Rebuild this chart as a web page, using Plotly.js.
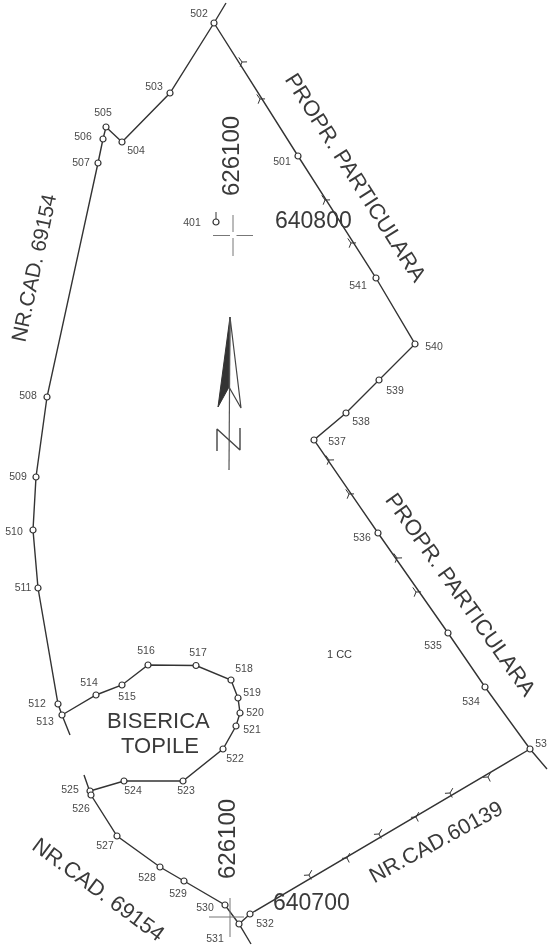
<!DOCTYPE html>
<html><head><meta charset="utf-8">
<script src="https://cdn.plot.ly/plotly-3.0.1.min.js"></script>
<style>html,body{margin:0;padding:0;background:#fff}#p{width:549px;height:948px;filter:blur(0.45px)}</style>
</head><body><div id="p"></div>
<script>
// Boundary runs, read from the plan (sheet coordinates)
const westRunX=[226,214,170,122,106,103,98,47,36,33,38,58,62,70];
const westRunY=[3,23,93,142,127,139,163,397,477,530,588,704,715,735];
const churchRunX=[62,96,122,148,196,231,238,240,236,223,183,124,90];
const churchRunY=[715,695,685,665,665.5,680,698,713,726,749,781,781,791];
const southRunX=[84,90,91,117,160,184,225,239,251];
const southRunY=[775,791,795,836,867,881,905,924,944];
const cadRunX=[239,250,530];
const cadRunY=[924,914,749];
const eastRunX=[547,530,485,448,378,314,346,379,415,376,298,214];
const eastRunY=[769,749,687,633,533,440,413,380,344,278,156,23];
// Surveyed points
const pointX=[298,214,170,122,106,103,98,47,36,33,38,58,62,96,122,148,196,231,238,240,236,223,183,124,90,91,117,160,184,225,239,250,530,485,448,378,314,346,379,415,376,216];
const pointY=[156,23,93,142,127,139,163,397,477,530,588,704,715,695,685,665,665.5,680,698,713,726,749,781,781,791,795,836,867,881,905,924,914,749,687,633,533,440,413,380,344,278,222];
// Point labels
const labelText=["501","502","503","504","505","506","507","508","509","510","511","512","513","514","515","516","517","518","519","520","521","522","523","524","525","526","527","528","529","530","531","532","53","534","535","536","537","538","539","540","541","401"];
const labelX=[282,199,154,136,103,83,81,28,18,14,23,37,45,89,127,146,198,244,252,255,252,235,186,133,70,81,105,147,178,205,215,265,541,471,433,362,337,361,395,434,358,192];
const labelY=[162,14,87,151,113,137,163,396,477,532,588,704,722,683,697,651,653,669,693,713,730,759,791,791,790,809,846,878,894,908,939,924,744,702,646,538,442,422,391,347,286,223];
// Boundary tick marks
const tickX=[242,260,325,351,329,349,397,416,488,450,416,379,347,309];
const tickY=[62,99,200,243,460,494,558,592,777,793,817,834,858,875];
const tickAngle=[-35,-35,-35,-35,-35,-35,-35,-35,30,30,30,30,30,30];
// Large rotated captions
const captionText=["PROPR. PARTICULARA","PROPR. PARTICULARA","NR.CAD. 69154","NR.CAD. 69154","NR.CAD.60139","626100","626100","640800","640700","BISERICA","TOPILE","1 CC"];
const captionX=[356,461,33,99,436,230,226,313,311,158,160,339];
const captionY=[177,594,268,889,842,156,839,220,902,720,745,654];
const captionAngle=[57.5,54.7,-78,36.5,-28.5,-90,-90,0,0,0,0,0];
const captionSize=[22,22,21,22,21.5,24,24,23,23,22,22,11];
// Grid crosses
const crossAX=[213,230,null,236.5,253,null,233,233,null,233,233];
const crossAY=[235.5,235.5,null,235.5,235.5,null,215,232,null,238,256];
const crossBX=[209,244,null,230,230];
const crossBY=[917,917,null,898,937];
// North arrow
const arrowDarkX=[230,218,229,230], arrowDarkY=[317,407,387,317];
const arrowLightX=[230,241,229,230], arrowLightY=[317,408,387,317];
const stemX=[230,229], stemY=[317,470];
const northX=[217,217,240,240], northY=[451,429,450,428];
const stubX=[216,216], stubY=[222,212];

const ink='#333';
const ln=(x,y,w,c)=>({type:'scatter',mode:'lines',x,y,hoverinfo:'skip',line:{color:c||ink,width:w||1.4}});
const traces=[
 ln(westRunX,westRunY),ln(churchRunX,churchRunY),ln(southRunX,southRunY),ln(cadRunX,cadRunY),ln(eastRunX,eastRunY),
 ln(crossAX,crossAY,1,'#777'),ln(crossBX,crossBY,1,'#777'),ln(stubX,stubY,1.2,'#555'),
 {type:'scatter',mode:'lines',x:arrowDarkX,y:arrowDarkY,fill:'toself',fillcolor:'#333',line:{color:'#333',width:1},hoverinfo:'skip'},
 {type:'scatter',mode:'lines',x:arrowLightX,y:arrowLightY,fill:'toself',fillcolor:'#fff',line:{color:'#444',width:1.2},hoverinfo:'skip'},
 ln(stemX,stemY,1.2,'#555'),ln(northX,northY,1.4,'#444'),
 {type:'scatter',mode:'markers',x:tickX,y:tickY,hoverinfo:'skip',marker:{symbol:'y-up-open',size:7,angle:tickAngle,color:ink,line:{color:ink,width:1}}},
 {type:'scatter',mode:'markers',x:pointX,y:pointY,hoverinfo:'skip',marker:{symbol:'circle',size:6,color:'#fff',line:{color:ink,width:1.2}}},
 {type:'scatter',mode:'text',x:labelX,y:labelY,text:labelText,textposition:'middle center',hoverinfo:'skip',textfont:{family:'Liberation Sans',size:10.5,color:'#4a4a4a'}}
];
const annotations=captionText.map((t,i)=>({x:captionX[i],y:captionY[i],xref:'x',yref:'y',text:t,showarrow:false,textangle:captionAngle[i],xanchor:'center',yanchor:'middle',font:{family:'Liberation Sans',size:captionSize[i],color:'#3a3a3a'}}));
Plotly.newPlot('p',traces,{
 width:549,height:948,margin:{l:0,r:0,t:0,b:0},showlegend:false,paper_bgcolor:'#fff',plot_bgcolor:'#fff',
 xaxis:{range:[0,549],visible:false,fixedrange:true},
 yaxis:{range:[948,0],visible:false,fixedrange:true},
 annotations
},{staticPlot:true});
</script></body></html>
